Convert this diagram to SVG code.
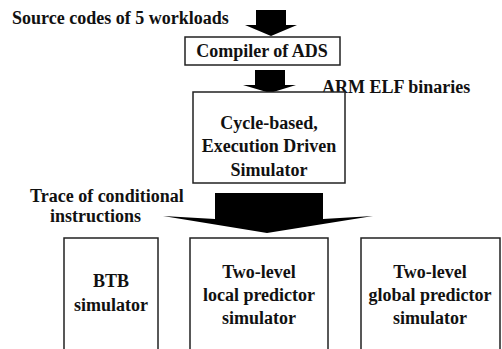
<svg xmlns="http://www.w3.org/2000/svg" width="502" height="349" viewBox="0 0 502 349">
<style>
.c{text-anchor:middle}
.box{fill:#fff;stroke:#222;stroke-width:1.5}
.arr{fill:#000}
</style>
<rect width="502" height="349" fill="#fff"/>
<g id="connectors">
<polygon class="arr" points="256,10 286,10 286,25 297,25 271,36 245,25 256,25"/>
<polygon class="arr" points="255,70 285,70 285,85 296,85 270,93 243,85 255,85"/>
<polygon class="arr" points="215,193 323,193 323,219 373,216 267,233 163,216 215,219"/>
</g>
<g font-family="Liberation Serif, Times New Roman, serif" font-weight="bold" font-size="18" fill="#111">
<g id="label-source"><text x="12" y="24">Source codes of 5 workloads</text></g>
<g id="node-compiler"><rect class="box" x="185" y="37" width="155" height="28"/><text class="c" x="262" y="57">Compiler of ADS</text></g>
<g id="label-arm"><text x="322" y="93">ARM ELF binaries</text></g>
<g id="node-sim"><rect class="box" x="193" y="92" width="152" height="91"/>
<text class="c" x="269" y="129">Cycle-based,</text>
<text class="c" x="269" y="152">Execution Driven</text>
<text class="c" x="269" y="176">Simulator</text></g>
<g id="label-trace"><text x="30" y="202">Trace of conditional</text><text x="50" y="222">instructions</text></g>
<g id="node-btb"><rect class="box" x="64" y="238" width="94" height="120"/>
<text class="c" x="111" y="287">BTB</text><text class="c" x="111" y="311">simulator</text></g>
<g id="node-local"><rect class="box" x="190" y="238" width="138" height="120"/>
<text class="c" x="259" y="278">Two-level</text><text class="c" x="259" y="301">local predictor</text><text class="c" x="259" y="324">simulator</text></g>
<g id="node-global"><rect class="box" x="361" y="238" width="139" height="120"/>
<text class="c" x="430" y="278">Two-level</text><text class="c" x="430" y="301">global predictor</text><text class="c" x="430" y="324">simulator</text></g>
</g>
</svg>
